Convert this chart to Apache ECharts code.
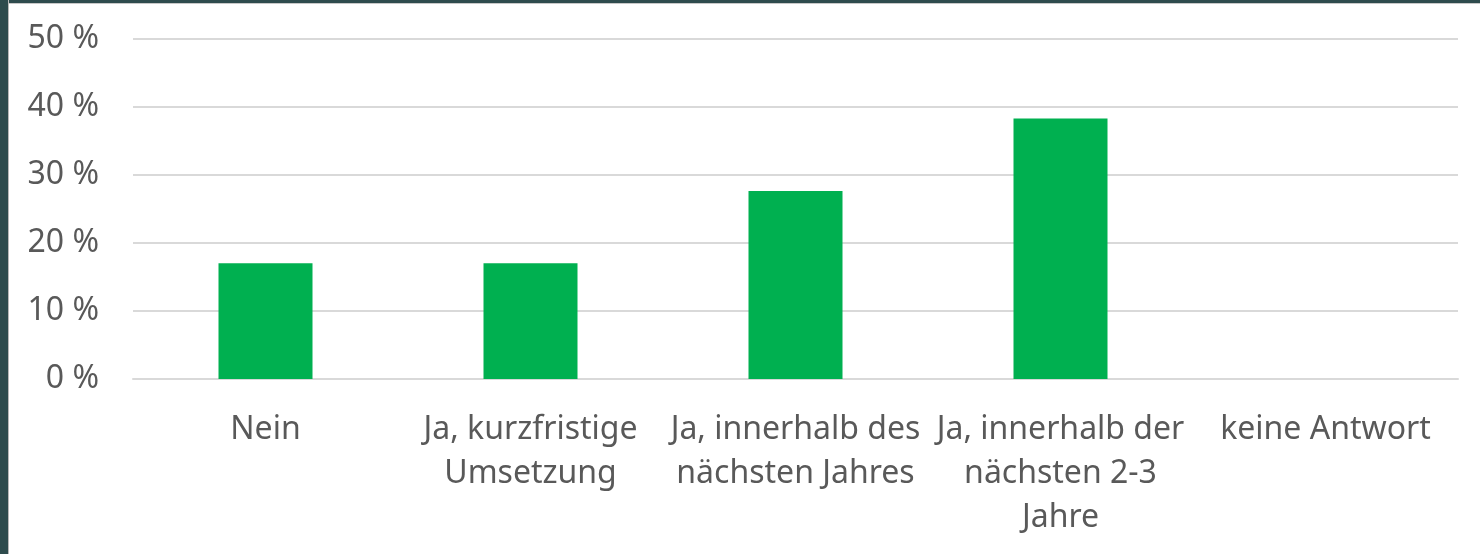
<!DOCTYPE html>
<html>
<head>
<meta charset="utf-8">
<script src="https://cdn.jsdelivr.net/npm/echarts@6/dist/echarts.min.js"></script>
<style>
    html, body { margin: 0; padding: 0; background: #fff; }
    #main { width: 1480px; height: 554px; }
    .frameL { position: absolute; left: 0; top: 0; width: 8px; height: 554px; background: #2e4b4d; border-right: 1px solid #b8b8b8; }
    .frameT { position: absolute; left: 0; top: 0; width: 1480px; height: 3px; background: #2e4b4d; border-bottom: 1px solid #c8c8c8; }
</style>
</head>
<body>
<div id="main"></div>
<div class="frameT"></div>
<div class="frameL"></div>
<script>
    // Kategorien und Werte (Anteil in %)
    var categories = ['Nein', 'Ja, kurzfristige\nUmsetzung', 'Ja, innerhalb des\nnächsten Jahres', 'Ja, innerhalb der\nnächsten 2-3\nJahre', 'keine Antwort'];
    var values = [17.02, 17.02, 27.66, 38.30, 0];
    var yTicks = [0, 10, 20, 30, 40, 50];

    var myChart = echarts.init(document.getElementById('main'));
    var font = '"Noto Sans", sans-serif';
    var option = {
        animation: false,
        grid: {left: 133, right: 22, top: 39, bottom: 175},
        xAxis: {
            type: 'category',
            data: categories,
            axisLine: {show: true, lineStyle: {color: '#d9d9d9', width: 2}},
            axisTick: {show: false},
            axisLabel: {
                interval: 0,
                margin: 29,
                color: '#595959',
                fontFamily: font,
                fontSize: 32,
                lineHeight: 44
            }
        },
        yAxis: {
            type: 'value',
            min: yTicks[0],
            max: yTicks[yTicks.length - 1],
            interval: 10,
            axisLine: {show: false},
            axisTick: {show: false},
            splitLine: {lineStyle: {color: '#d9d9d9', width: 2}},
            axisLabel: {
                margin: 34,
                color: '#595959',
                fontFamily: font,
                fontSize: 32,
                formatter: '{value} %'
            }
        },
        series: [{
            type: 'bar',
            data: values,
            barWidth: 94,
            itemStyle: {color: '#00b050'}
        }]
    };
    myChart.setOption(option);
</script>
</body>
</html>
